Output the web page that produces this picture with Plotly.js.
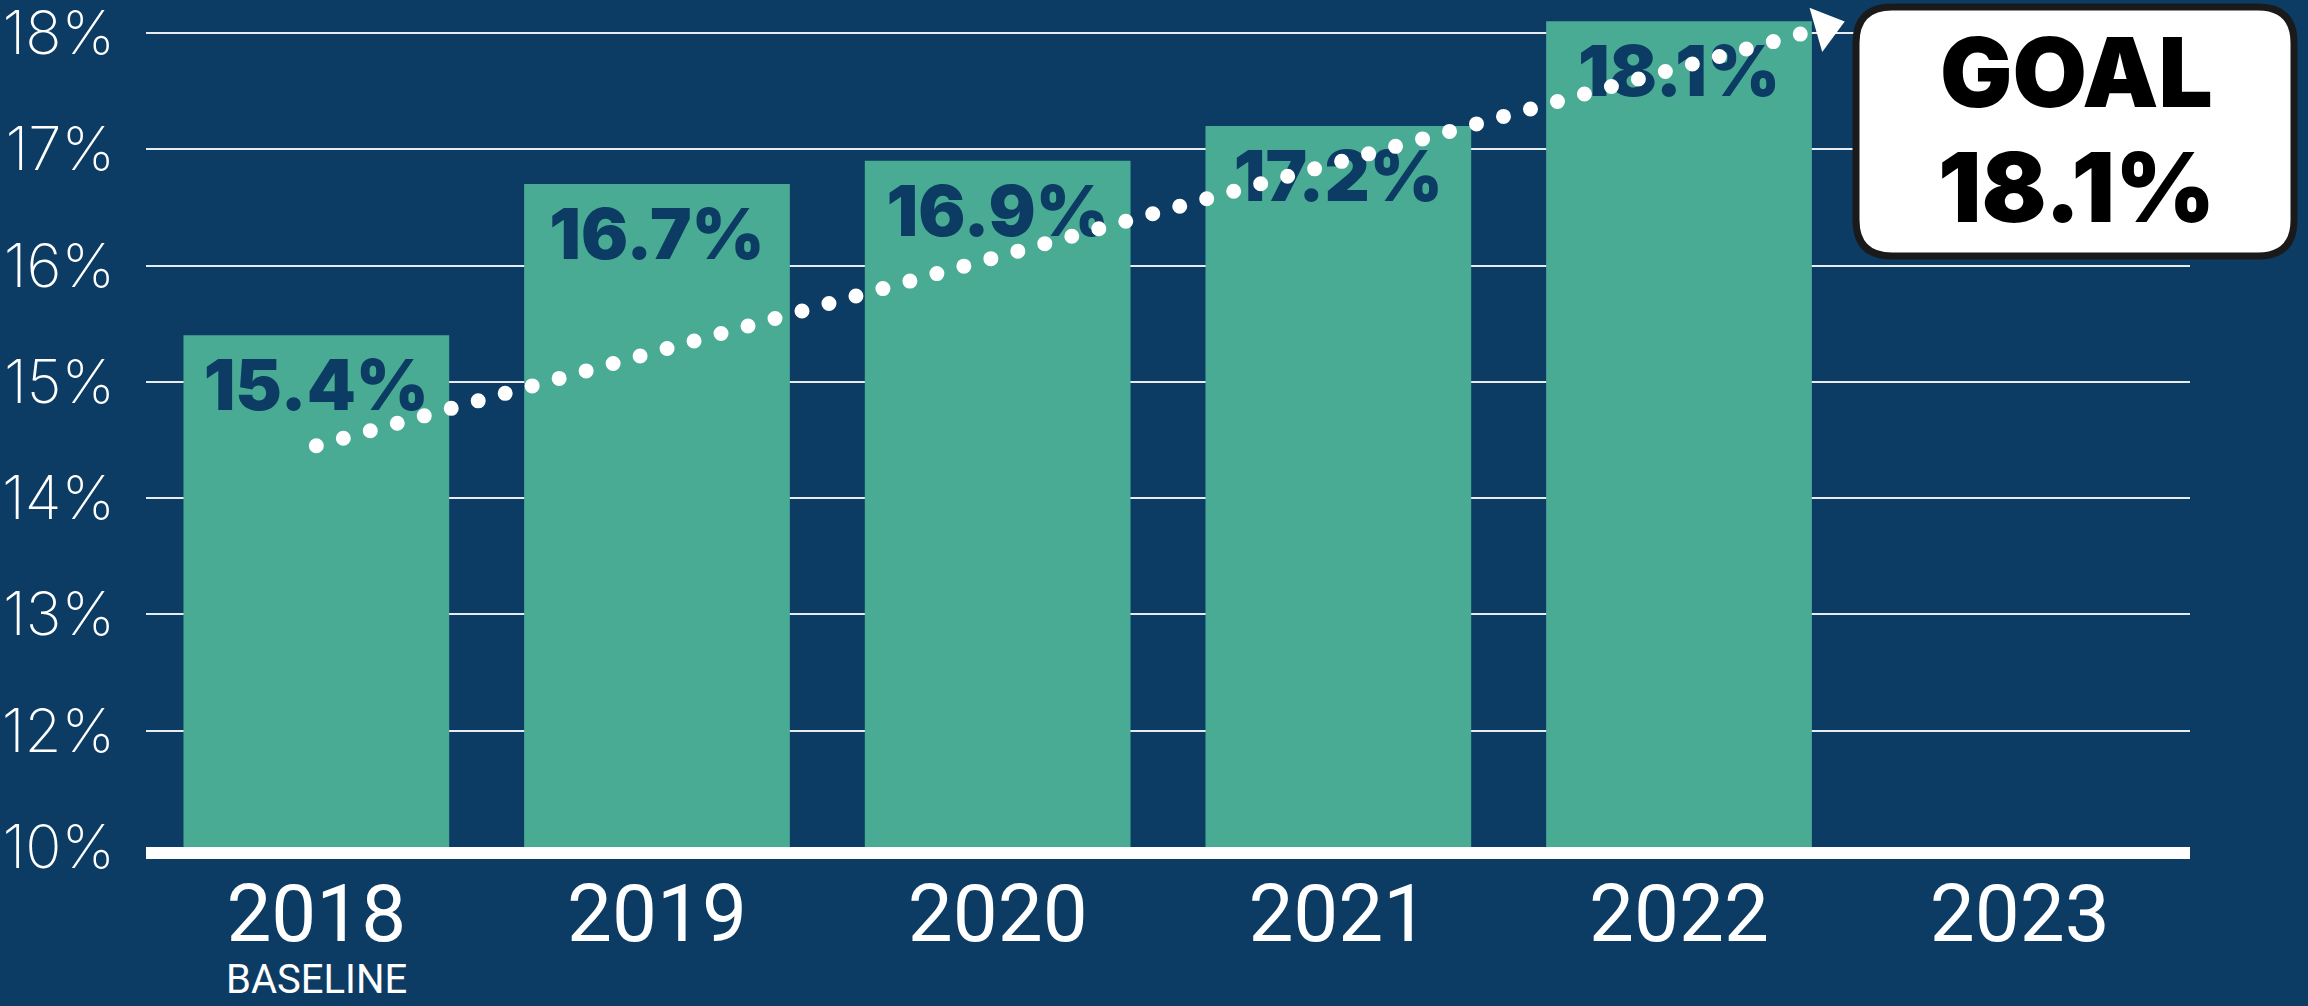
<!DOCTYPE html>
<html>
<head>
<meta charset="utf-8">
<script src="https://cdn.plot.ly/plotly-3.0.1.min.js"></script>
<style>
    body { margin: 0; background: #0c3c64; overflow: hidden; }
    #chart { width: 2308px; height: 1006px; }
    /* round caps turn the zero-length dashes into dots */
    .scatterlayer .js-line { stroke-linecap: round; }
</style>
</head>
<body>
<div id="chart"></div>
<script>
// --- Data ---
const years = ['2018', '2019', '2020', '2021', '2022', '2023'];
const shares = [15.4, 16.7, 16.9, 17.2, 18.1, null];
const goal = 18.1;

// the original axis skips 11%: the bottom tick stands for 10%
const yTickVals = [11, 12, 13, 14, 15, 16, 17, 18];
const yTickText = ['10%', '12%', '13%', '14%', '15%', '16%', '17%', '18%'];

// dotted trend arrow, from the baseline towards the goal
const trendX = [0, 4.43];
const trendY = [14.45, 18.05];

// --- Style ---
const NAVY = '#0c3c64';
const TEAL = '#4aab94';
const plotL = 146, plotW = 2044, plotH = 847;

const xIdx = years.map((_, i) => i);

function paperX(px) { return (px - plotL) / plotW; }
function paperY(py) { return (plotH - py) / plotH; }

// rounded rectangle given in pixels, returned as a paper-space path
function roundedBox(x0, y0, x1, y1, r) {
    const X = paperX, Y = paperY;
    return `M${X(x0 + r)},${Y(y0)} L${X(x1 - r)},${Y(y0)} Q${X(x1)},${Y(y0)} ${X(x1)},${Y(y0 + r)} ` +
        `L${X(x1)},${Y(y1 - r)} Q${X(x1)},${Y(y1)} ${X(x1 - r)},${Y(y1)} ` +
        `L${X(x0 + r)},${Y(y1)} Q${X(x0)},${Y(y1)} ${X(x0)},${Y(y1 - r)} ` +
        `L${X(x0)},${Y(y0 + r)} Q${X(x0)},${Y(y0)} ${X(x0 + r)},${Y(y0)} Z`;
}

const bars = {
    type: 'bar',
    x: xIdx,
    y: shares,
    marker: { color: TEAL },
    hoverinfo: 'skip'
};

const labels = {
    type: 'scatter',
    mode: 'markers+text',
    x: xIdx.slice(0, 5),
    y: shares.slice(0, 5),
    texttemplate: '%{y:.1f}%',
    textposition: 'bottom center',
    marker: { size: 34, opacity: 0 },
    textfont: { family: 'Inter, Roboto, sans-serif', weight: 900, size: 70, color: NAVY },
    hoverinfo: 'skip'
};

const trend = {
    type: 'scatter',
    mode: 'lines+markers',
    x: trendX,
    y: trendY,
    line: { color: '#ffffff', width: 15, dash: '0px,28px' },
    marker: {
        color: '#ffffff',
        opacity: 1,
        size: [0, 40],
        symbol: ['circle', 'triangle-right'],
        angle: -16,
        line: { width: 0 }
    },
    hoverinfo: 'skip'
};

const layout = {
    width: 2308,
    height: 1006,
    paper_bgcolor: NAVY,
    plot_bgcolor: NAVY,
    margin: { l: plotL, r: 2308 - plotL - plotW, t: 0, b: 1006 - plotH, pad: 0 },
    showlegend: false,
    bargap: 0.22,
    xaxis: {
        range: [-0.5, 5.5],
        tickvals: xIdx,
        ticktext: years,
        showgrid: false,
        zeroline: false,
        showline: true,
        linecolor: '#ffffff',
        linewidth: 12,
        ticks: '',
        ticklabelstandoff: -14,
        ticklabeloverflow: 'allow',
        tickfont: { family: 'Roboto, "Noto Sans", sans-serif', weight: 400, size: 80, color: '#ffffff' }
    },
    yaxis: {
        range: [11, 18.283],
        tickvals: yTickVals,
        ticktext: yTickText,
        showgrid: true,
        gridcolor: 'rgba(255,255,255,0.9)',
        gridwidth: 2,
        zeroline: false,
        showline: false,
        ticks: '',
        ticklabelstandoff: 30,
        ticklabeloverflow: 'allow',
        tickfont: { family: 'Inter, Lato, sans-serif', weight: 200, size: 60, color: '#ffffff' }
    },
    shapes: [
        {
            type: 'path',
            xref: 'paper', yref: 'paper',
            path: roundedBox(1856, 7, 2294, 256, 36),
            fillcolor: '#ffffff',
            line: { color: '#1a1a1a', width: 7 },
            layer: 'above'
        }
    ],
    annotations: [
        {
            xref: 'paper', yref: 'paper',
            x: paperX(2076), y: paperY(72),
            text: 'GOAL',
            showarrow: false,
            xanchor: 'center', yanchor: 'middle',
            font: { family: 'Inter, Roboto, sans-serif', weight: 900, size: 96, color: '#000000' }
        },
        {
            xref: 'paper', yref: 'paper',
            x: paperX(2076), y: paperY(187),
            text: goal.toFixed(1) + '%',
            showarrow: false,
            xanchor: 'center', yanchor: 'middle',
            font: { family: 'Inter, Roboto, sans-serif', weight: 900, size: 96, color: '#000000' }
        },
        {
            xref: 'x', yref: 'paper',
            x: 0, y: paperY(980),
            text: 'BASELINE',
            showarrow: false,
            xanchor: 'center', yanchor: 'middle',
            font: { family: 'Roboto, sans-serif', weight: 400, size: 40, color: '#ffffff' }
        }
    ]
};

Plotly.newPlot('chart', [bars, labels, trend], layout, { staticPlot: true, displayModeBar: false });
</script>
</body>
</html>
